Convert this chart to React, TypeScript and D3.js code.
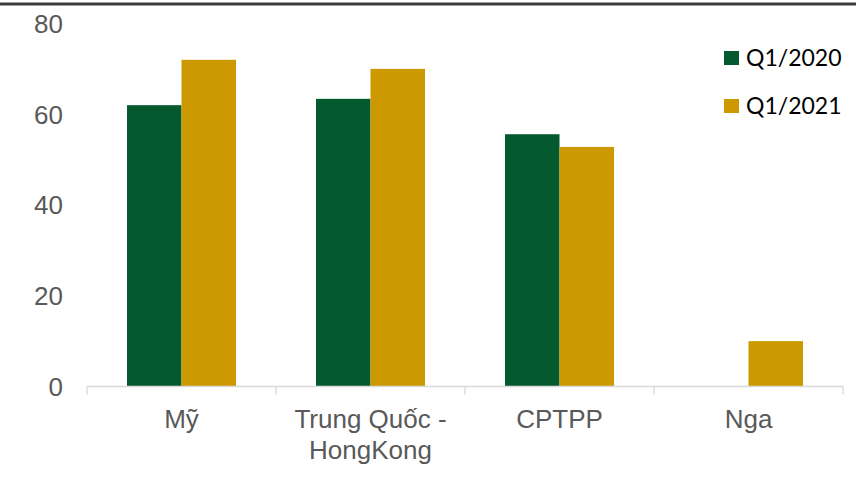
import React from "react";
import * as d3 from "d3";

const categories: string[][] = [["Mỹ"], ["Trung Quốc -", "HongKong"], ["CPTPP"], ["Nga"]];
const seriesNames = ["Q1/2020", "Q1/2021"];
const q12020: (number | null)[] = [62, 63.4, 55.6, null];
const q12021: number[] = [72, 70, 52.8, 10];
const yTicks = [0, 20, 40, 60, 80];
const colors = ["#04592f", "#cc9900"];

const W = 856;
const H = 479;

export default function App() {
  const x = d3.scaleBand<number>().domain(categories.map((_, i) => i)).range([87, 843]).paddingInner(0).paddingOuter(0);
  const y = d3.scaleLinear().domain([0, 80]).range([386.5, 23.5]);
  const inner = d3.scaleBand<number>().domain([0, 1]).range([40, x.bandwidth() - 40]);
  const series = [q12020, q12021];
  const fontAxis = "'Liberation Sans', Arial, sans-serif";

  return (
    <div style={{ position: "absolute", left: 0, top: 0 }}>
      <svg width={W} height={H} style={{ display: "block", background: "#fff" }}>
        <rect x={0} y={2.5} width={W} height={3} fill="#3d3d3d" />
        {yTicks.map((t) => (
          <text key={t} x={63} y={y(t)} dy="0.36em" textAnchor="end" fontFamily={fontAxis} fontSize={26} fill="#595959">
            {t}
          </text>
        ))}
        {series.map((vals, si) =>
          vals.map((v, ci) =>
            v == null ? null : (
              <rect
                key={`${si}-${ci}`}
                x={(x(ci) as number) + (inner(si) as number)}
                y={y(v)}
                width={inner.bandwidth()}
                height={y(0) - y(v)}
                fill={colors[si]}
              />
            )
          )
        )}
        <line x1={87} x2={843} y1={y(0)} y2={y(0)} stroke="#d9d9d9" strokeWidth={1.3} />
        {d3.range(categories.length + 1).map((i) => {
          const xx = 87 + i * x.step();
          return <line key={i} x1={xx} x2={xx} y1={y(0)} y2={y(0) + 8} stroke="#d9d9d9" strokeWidth={1.3} />;
        })}
        {categories.map((lines, ci) => (
          <text key={ci} x={(x(ci) as number) + x.bandwidth() / 2} y={428} textAnchor="middle" fontFamily={fontAxis} fontSize={26} fill="#595959">
            {lines.map((l, li) => (
              <tspan key={li} x={(x(ci) as number) + x.bandwidth() / 2} dy={li === 0 ? 0 : 31}>
                {l}
              </tspan>
            ))}
          </text>
        ))}
        {seriesNames.map((n, i) => (
          <g key={n}>
            <rect x={724} y={51 + i * 48} width={15} height={14} fill={colors[i]} />
            <text x={746} y={66 + i * 47.5} fontFamily="Lato, 'Open Sans', sans-serif" fontSize={23} fill="#000">
              {n}
            </text>
          </g>
        ))}
      </svg>
    </div>
  );
}
